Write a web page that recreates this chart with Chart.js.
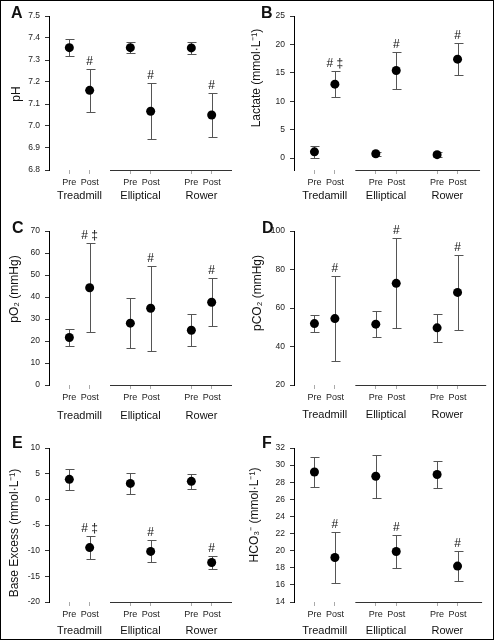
<!DOCTYPE html>
<html>
<head>
<meta charset="utf-8">
<script src="https://cdn.jsdelivr.net/npm/chart.js@4.4.1/dist/chart.umd.min.js"></script>
<style>
  html, body { margin: 0; padding: 0; background: #fff; }
  #page { position: relative; width: 495px; height: 641px; background: #fff; overflow: hidden; }
  #page canvas { position: absolute; }
  #frame { position: absolute; left: 0; top: 0; width: 494px; height: 640px; box-sizing: border-box; border: 1px solid #000; pointer-events: none; }
</style>
</head>
<body>
<div id="page">
  <canvas id="cA"></canvas>
  <canvas id="cB"></canvas>
  <canvas id="cC"></canvas>
  <canvas id="cD"></canvas>
  <canvas id="cE"></canvas>
  <canvas id="cF"></canvas>
  <div id="frame"></div>
</div>
<script>
// ---------------- DATA ----------------
const categories = ['Pre', 'Post'];
const groups = ['Treadmill', 'Elliptical', 'Rower'];
const groupsB = ['Tredamill', 'Elliptical', 'Rower'];

// A: pH
const pHMean = [7.356, 7.162, 7.356, 7.067, 7.355, 7.050];
const pHErr  = [0.038, 0.097, 0.026, 0.128, 0.027, 0.102];
const pHMarks = ['', '#', '', '#', '', '#'];
const pHTicks = [6.8, 6.9, 7.0, 7.1, 7.2, 7.3, 7.4, 7.5];

// B: Lactate
const lacMean = [1.1, 13.0, 0.75, 15.4, 0.6, 17.4];
const lacErr  = [1.1, 2.3, 0.3, 3.3, 0.4, 2.8];
const lacMarks = ['', '# \u2021', '', '#', '', '#'];
const lacTicks = [0, 5, 10, 15, 20, 25];

// C: pO2
const pO2Mean = [21.6, 44.2, 28.1, 34.9, 24.9, 37.6];
const pO2Err  = [3.9, 20.3, 11.5, 19.3, 7.3, 11.0];
const pO2Marks = ['', '# \u2021', '', '#', '', '#'];
const pO2Ticks = [0, 10, 20, 30, 40, 50, 60, 70];

// D: pCO2
const pCO2Mean = [51.9, 54.5, 51.6, 72.8, 49.7, 68.1];
const pCO2Err  = [4.6, 22.0, 6.7, 23.4, 7.3, 19.5];
const pCO2Marks = ['', '#', '', '#', '', '#'];
const pCO2Ticks = [20, 40, 60, 80, 100];

// E: Base Excess
const beMean = [3.9, -9.4, 3.1, -10.15, 3.5, -12.3];
const beErr  = [2.0, 2.3, 2.0, 2.15, 1.4, 1.2];
const beMarks = ['', '# \u2021', '', '#', '', '#'];
const beTicks = [-20, -15, -10, -5, 0, 5, 10];

// F: HCO3-
const hcoMean = [29.2, 19.2, 28.7, 19.9, 28.9, 18.2];
const hcoErr  = [1.8, 3.0, 2.5, 1.95, 1.6, 1.75];
const hcoMarks = ['', '#', '', '#', '', '#'];
const hcoTicks = [14, 16, 18, 20, 22, 24, 26, 28, 30, 32];

// ---------------- HELPERS ----------------
const FONT = '"Liberation Sans", Arial, Helvetica, sans-serif';
// x position of each (group, category) pair, with one empty slot between groups
const positions = [];
groups.forEach((g, gi) => categories.forEach((c, ci) => positions.push(gi * (categories.length + 1) + ci + 1)));
const groupCenters = groups.map((g, gi) => gi * (categories.length + 1) + (categories.length + 1) / 2);

const deco = {
  id: 'deco',
  beforeDatasetsDraw(chart, args, o) {
    const { ctx } = chart;
    const xs = chart.scales.x, ys = chart.scales.y;
    const ds = chart.data.datasets[0];
    ctx.save();
    ctx.strokeStyle = o.errColor;
    ctx.lineWidth = 1;
    ds.data.forEach((p, i) => {
      const px = Math.round(xs.getPixelForValue(p.x)) + 0.5;
      const yt = Math.round(ys.getPixelForValue(p.y + o.errs[i])) + 0.5;
      const yb = Math.round(ys.getPixelForValue(p.y - o.errs[i])) + 0.5;
      ctx.beginPath();
      ctx.moveTo(px, yt); ctx.lineTo(px, yb);
      ctx.moveTo(px - o.cap, yt); ctx.lineTo(px + o.cap + 1, yt);
      ctx.moveTo(px - o.cap, yb); ctx.lineTo(px + o.cap + 1, yb);
      ctx.stroke();
    });
    ctx.restore();
  },
  afterDraw(chart, args, o) {
    const { ctx, chartArea } = chart;
    const xs = chart.scales.x, ys = chart.scales.y;
    const ds = chart.data.datasets[0];
    ctx.save();
    // broken x-axis segment
    const ay = Math.round(chartArea.bottom) + 0.5;
    ctx.strokeStyle = o.axisColor;
    ctx.lineWidth = 1;
    ctx.beginPath();
    ctx.moveTo(xs.getPixelForValue(o.segStart), ay);
    ctx.lineTo(xs.getPixelForValue(o.segEnd), ay);
    ctx.stroke();
    // group labels
    ctx.fillStyle = '#111';
    ctx.font = '11px ' + FONT;
    ctx.textAlign = 'center';
    ctx.textBaseline = 'middle';
    o.groupNames.forEach((g, i) => ctx.fillText(g, xs.getPixelForValue(groupCenters[i]), chartArea.bottom + o.groupDy));
    // significance marks
    ctx.font = '12px ' + FONT;
    ctx.textBaseline = 'alphabetic';
    ds.data.forEach((p, i) => {
      if (!o.marks[i]) return;
      const yt = ys.getPixelForValue(p.y + o.errs[i]);
      ctx.fillText(o.marks[i], xs.getPixelForValue(p.x), yt - 4);
    });
    // y title
    ctx.save();
    ctx.font = '12px ' + FONT;
    ctx.textBaseline = 'middle';
    ctx.translate(o.titleX, (chartArea.top + chartArea.bottom) / 2 + o.titleDy);
    ctx.rotate(-Math.PI / 2);
    ctx.fillText(o.title, 0, 0);
    ctx.restore();
    // panel letter
    ctx.font = 'bold 16px ' + FONT;
    ctx.textAlign = 'left';
    ctx.textBaseline = 'alphabetic';
    ctx.fillText(o.letter, o.letterX, chartArea.top + o.letterDy);
    ctx.restore();
  }
};

function makePanel(id, cfg) {
  const cv = document.getElementById(id);
  cv.width = cfg.w; cv.height = cfg.h;
  cv.style.left = cfg.left + 'px'; cv.style.top = cfg.top + 'px';
  cv.style.width = cfg.w + 'px'; cv.style.height = cfg.h + 'px';
  const plotH = 154;
  return new Chart(cv, {
    type: 'scatter',
    data: {
      datasets: [{
        data: cfg.means.map((m, i) => ({ x: positions[i], y: m })),
        pointRadius: 4.5,
        pointHoverRadius: 4.5,
        pointBackgroundColor: '#000',
        pointBorderColor: '#000',
        pointBorderWidth: 0,
        showLine: false
      }]
    },
    options: {
      responsive: false,
      animation: false,
      devicePixelRatio: 1,
      layout: { padding: { left: 0, top: 16, right: cfg.padRight, bottom: 0 } },
      plugins: {
        legend: { display: false },
        tooltip: { enabled: false },
        deco: {
          errs: cfg.errs, marks: cfg.marks, errColor: '#555', cap: 4,
          axisColor: '#333', segStart: 3, segEnd: cfg.segEnd,
          groupNames: cfg.groupNames || groups, groupDy: cfg.groupDy,
          title: cfg.title, titleX: cfg.titleX, titleDy: cfg.titleDy,
          letter: cfg.letter, letterX: cfg.letterX, letterDy: cfg.letterDy
        }
      },
      scales: {
        x: {
          type: 'linear', min: 0, max: 9,
          afterFit(s) { s.height = cfg.h - 16 - plotH; },
          afterBuildTicks(s) { s.ticks = positions.map(v => ({ value: v })); },
          border: { display: false },
          grid: { display: true, drawOnChartArea: false, drawTicks: true, tickLength: 4, tickColor: '#aaa' },
          ticks: {
            autoSkip: false, maxRotation: 0, minRotation: 0, padding: 3,
            color: '#222', font: { family: FONT, size: 9 },
            callback: (v, i) => categories[i % categories.length]
          }
        },
        y: {
          type: 'linear', min: cfg.yMin, max: cfg.yMax,
          afterFit(s) { s.width = 49; },
          afterBuildTicks(s) { s.ticks = cfg.ticks.map(v => ({ value: v })); },
          border: { display: true, color: '#000', width: 1 },
          grid: { display: true, drawOnChartArea: false, drawTicks: true, tickLength: 4, tickColor: '#333' },
          ticks: {
            padding: 5, color: '#222', font: { family: FONT, size: 8.5 },
            callback: v => cfg.fmt ? cfg.fmt(v) : String(v)
          }
        }
      }
    },
    plugins: [deco]
  });
}

makePanel('cA', { left: 0, top: 0, w: 247, h: 215, padRight: 15, segEnd: 9,
  means: pHMean, errs: pHErr, marks: pHMarks, ticks: pHTicks, yMin: 6.8, yMax: 7.5, fmt: v => v.toFixed(1),
  groupDy: 26, title: 'pH', titleX: 17, titleDy: 1, letter: 'A', letterX: 11, letterDy: 2 });

makePanel('cB', { left: 245, top: 0, w: 249, h: 215, padRight: 16, segEnd: 9.1,
  means: lacMean, errs: lacErr, marks: lacMarks, ticks: lacTicks, yMin: -2.1, yMax: 25,
  groupNames: groupsB,
  groupDy: 26, title: 'Lactate (mmol\u00B7L\u207B\u00B9)', titleX: 12, titleDy: -15, letter: 'B', letterX: 16, letterDy: 2 });

makePanel('cC', { left: 0, top: 215, w: 247, h: 217, padRight: 15, segEnd: 9,
  means: pO2Mean, errs: pO2Err, marks: pO2Marks, ticks: pO2Ticks, yMin: 0, yMax: 70,
  groupDy: 31, title: 'pO\u2082 (mmHg)', titleX: 15, titleDy: -19, letter: 'C', letterX: 12, letterDy: 2 });

makePanel('cD', { left: 245, top: 215, w: 249, h: 217, padRight: 16, segEnd: 9.4,
  means: pCO2Mean, errs: pCO2Err, marks: pCO2Marks, ticks: pCO2Ticks, yMin: 20, yMax: 100,
  groupDy: 30, title: 'pCO\u2082 (mmHg)', titleX: 13, titleDy: -15, letter: 'D', letterX: 17, letterDy: 2 });

makePanel('cE', { left: 0, top: 432, w: 247, h: 208, padRight: 15, segEnd: 9,
  means: beMean, errs: beErr, marks: beMarks, ticks: beTicks, yMin: -20, yMax: 10,
  groupDy: 29, title: 'Base Excess (mmol\u00B7L\u207B\u00B9)', titleX: 15, titleDy: 8, letter: 'E', letterX: 12, letterDy: 0 });

makePanel('cF', { left: 245, top: 432, w: 249, h: 208, padRight: 16, segEnd: 9.2,
  means: hcoMean, errs: hcoErr, marks: hcoMarks, ticks: hcoTicks, yMin: 14, yMax: 32,
  groupDy: 29, title: 'HCO\u2083\u207B (mmol\u00B7L\u207B\u00B9)', titleX: 10, titleDy: -10, letter: 'F', letterX: 17, letterDy: 0 });
</script>
</body>
</html>
